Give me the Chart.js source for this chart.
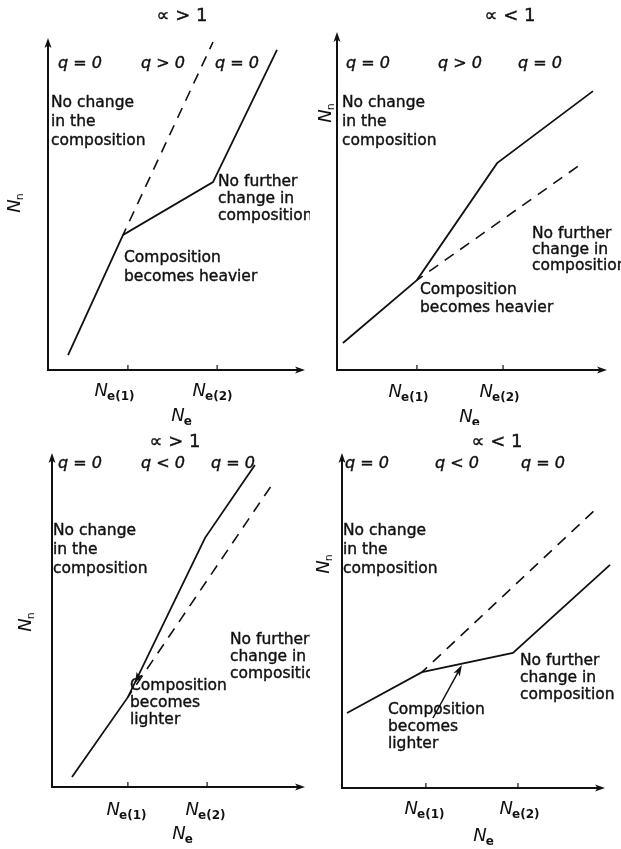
<!DOCTYPE html>
<html>
<head>
<meta charset="utf-8">
<script src="https://cdn.jsdelivr.net/npm/chart.js@4.4.1/dist/chart.umd.min.js"></script>
<style>
  html, body { margin: 0; padding: 0; background: #fff; }
  #wrap { position: relative; width: 621px; height: 849px; overflow: hidden; }
  .panel { position: absolute; }
</style>
</head>
<body>
<div id="wrap">
  <canvas id="c1" class="panel" width="310" height="425" style="left:0;top:0"></canvas>
  <canvas id="c2" class="panel" width="311" height="425" style="left:310px;top:0"></canvas>
  <canvas id="c3" class="panel" width="310" height="424" style="left:0;top:425px"></canvas>
  <canvas id="c4" class="panel" width="311" height="424" style="left:310px;top:425px"></canvas>
</div>
<script>
// ===============================================
// DATA (axis units 0..10)
// ===============================================
// alpha > 1, q > 0
const p1SolidX = [0.78, 2.92, 6.42, 8.91];
const p1SolidY = [0.45, 4.07, 5.66, 9.64];
const p1DashX = [2.92, 6.42];
const p1DashY = [4.07, 9.88];
const p1Ticks = [3.11, 6.58];

// alpha < 1, q > 0
const p2SolidX = [0.22, 2.96, 5.93, 9.48];
const p2SolidY = [0.80, 2.66, 6.12, 8.25];
const p2DashX = [2.96, 9.00];
const p2DashY = [2.66, 6.07];
const p2Ticks = [2.96, 6.15];

// alpha > 1, q < 0
const p3SolidX = [0.79, 3.00, 6.05, 8.02];
const p3SolidY = [0.30, 2.69, 7.46, 9.64];
const p3DashX = [3.00, 8.74];
const p3DashY = [2.69, 9.10];
const p3Ticks = [3.00, 6.13];
const p3ArrowX = [3.58, 3.28];
const p3ArrowY = [3.58, 3.11];

// alpha < 1, q < 0
const p4SolidX = [0.19, 3.04, 6.50, 10.19];
const p4SolidY = [2.24, 3.46, 4.03, 6.66];
const p4DashX = [3.04, 9.62];
const p4DashY = [3.46, 8.30];
const p4Ticks = [3.19, 6.69];
const p4ArrowX = [3.46, 4.56];
const p4ArrowY = [2.09, 3.67];

const tickSubs = ["e(1)", "e(2)"];
const titles = ["\u221D > 1", "\u221D < 1", "\u221D > 1", "\u221D < 1"];
const qTop = ["q = 0", "q > 0", "q = 0"];
const qBottom = ["q = 0", "q < 0", "q = 0"];
const noChange = ["No change", "in the", "composition"];
const noFurther = ["No further", "change in", "composition"];
const heavier = ["Composition", "becomes heavier"];
const lighter = ["Composition", "becomes", "lighter"];

const INK = "#111";
const FONT = "DejaVu Sans";

function pts(xs, ys) {
    return xs.map((x, i) => ({ x: x, y: ys[i] }));
}

// ===============================================
// DRAW HELPERS
// ===============================================
function arrowHead(ctx, x, y, ang, len, wid) {
    ctx.save();
    ctx.translate(x, y);
    ctx.rotate(ang);
    ctx.beginPath();
    ctx.moveTo(0, 0);
    ctx.lineTo(-len, -wid);
    ctx.lineTo(-len * 0.75, 0);
    ctx.lineTo(-len, wid);
    ctx.closePath();
    ctx.fill();
    ctx.restore();
}

// filled text with a thin outline, the original lettering is heavy
function heavyText(ctx, t, x, y) {
    ctx.fillText(t, x, y);
    ctx.strokeText(t, x, y);
}

function drawNe(ctx, cx, base, sub) {
    ctx.font = "italic 18px " + FONT;
    const wN = ctx.measureText("N").width;
    ctx.font = "bold 12px " + FONT;
    const wS = sub ? ctx.measureText(sub).width : 0;
    const x0 = cx - (wN + wS) / 2;
    ctx.font = "italic 18px " + FONT;
    ctx.textAlign = "left";
    ctx.fillText("N", x0, base);
    if (sub) {
        ctx.font = "bold 12px " + FONT;
        ctx.fillText(sub, x0 + wN - 1, base + 4);
    }
}

function drawLines(ctx, lines, x, y0, step) {
    ctx.font = "15.5px " + FONT;
    ctx.textAlign = "left";
    ctx.lineWidth = 0.4;
    lines.forEach((t, i) => heavyText(ctx, t, x, y0 + i * step));
}

// ===============================================
// PLUGIN: axes, ticks, texts
// ===============================================
const figurePlugin = {
    id: "figure",
    afterDatasetsDraw(chart, args, o) {
        const ctx = chart.ctx;
        const a = chart.chartArea;
        const sx = chart.scales.x;
        const sy = chart.scales.y;
        ctx.save();
        ctx.fillStyle = INK;
        ctx.strokeStyle = INK;

        // axes
        ctx.lineWidth = 2;
        ctx.beginPath();
        ctx.moveTo(a.left, a.top + 4);
        ctx.lineTo(a.left, a.bottom);
        ctx.lineTo(a.right - 4, a.bottom);
        ctx.stroke();
        arrowHead(ctx, a.left, a.top, -Math.PI / 2, 10, 3.5);
        arrowHead(ctx, a.right, a.bottom, 0, 10, 3.5);

        // ticks + labels
        ctx.lineWidth = 1.2;
        o.ticks.forEach((v, i) => {
            const px = sx.getPixelForValue(v);
            ctx.beginPath();
            ctx.moveTo(px, a.bottom);
            ctx.lineTo(px, a.bottom - 5);
            ctx.stroke();
            drawNe(ctx, o.tickLabelX[i], o.tickLabelY, tickSubs[i]);
        });
        drawNe(ctx, o.neX, o.neY, "e");

        // y title
        ctx.save();
        ctx.translate(o.nnX, o.nnY);
        ctx.rotate(-Math.PI / 2);
        ctx.font = "italic 18px " + FONT;
        const wN = ctx.measureText("N").width;
        ctx.textAlign = "left";
        ctx.fillText("N", -wN / 2 - 3, 6);
        ctx.font = "11px " + FONT;
        ctx.fillText("n", wN / 2 - 4, 9);
        ctx.restore();

        // panel title
        ctx.font = "18px " + FONT;
        ctx.textAlign = "center";
        ctx.lineWidth = 0.4;
        heavyText(ctx, o.title, o.titleX, o.titleY);

        // q labels
        ctx.font = "italic 16px " + FONT;
        o.q.forEach((t, i) => heavyText(ctx, t, o.qX[i], o.qY));

        // notes
        o.notes.forEach(n => drawLines(ctx, n.lines, n.x, n.y, n.step));

        // pointer arrow
        if (o.arrowX) {
            const x1 = sx.getPixelForValue(o.arrowX[0]);
            const y1 = sy.getPixelForValue(o.arrowY[0]);
            const x2 = sx.getPixelForValue(o.arrowX[1]);
            const y2 = sy.getPixelForValue(o.arrowY[1]);
            const ang = Math.atan2(y2 - y1, x2 - x1);
            if (o.shaft) {
                ctx.lineWidth = 1.5;
                ctx.beginPath();
                ctx.moveTo(x1, y1);
                ctx.lineTo(x2 - Math.cos(ang) * 6, y2 - Math.sin(ang) * 6);
                ctx.stroke();
            }
            arrowHead(ctx, x2, y2, ang, 11, 3.5);
        }
        ctx.restore();
    }
};

// ===============================================
// BUILD ONE PANEL
// ===============================================
function makePanel(id, solid, dashed, pad, fig) {
    return new Chart(document.getElementById(id), {
        type: "line",
        data: {
            datasets: [
                {
                    data: solid,
                    borderColor: INK,
                    borderWidth: 1.8,
                    pointRadius: 0,
                    tension: 0,
                    clip: false,
                },
                {
                    data: dashed,
                    borderColor: INK,
                    borderWidth: 1.6,
                    borderDash: [11, 8],
                    borderDashOffset: 4,
                    pointRadius: 0,
                    tension: 0,
                    clip: false,
                },
            ],
        },
        options: {
            responsive: false,
            animation: false,
            layout: { padding: pad },
            plugins: {
                legend: { display: false },
                tooltip: { enabled: false },
                figure: fig,
            },
            scales: {
                x: { type: "linear", min: 0, max: 10, display: false },
                y: { type: "linear", min: 0, max: 10, display: false },
            },
        },
        plugins: [figurePlugin],
    });
}

makePanel("c1", pts(p1SolidX, p1SolidY), pts(p1DashX, p1DashY),
    { left: 48, top: 38, right: 5, bottom: 55 },
    {
        ticks: p1Ticks, tickLabelX: [115, 213], tickLabelY: 396, neX: 182, neY: 421,
        nnX: 14, nnY: 203, title: titles[0], titleX: 182, titleY: 21,
        q: qTop, qX: [80, 163, 237], qY: 68,
        notes: [
            { lines: noChange, x: 51, y: 107, step: 19 },
            { lines: noFurther, x: 218, y: 186, step: 17 },
            { lines: heavier, x: 124, y: 262, step: 19 },
        ],
    });

makePanel("c2", pts(p2SolidX, p2SolidY), pts(p2DashX, p2DashY),
    { left: 27, top: 32, right: 14, bottom: 55 },
    {
        ticks: p2Ticks, tickLabelX: [99, 190], tickLabelY: 397, neX: 160, neY: 422,
        nnX: 15, nnY: 113, title: titles[1], titleX: 200, titleY: 21,
        q: qTop, qX: [58, 150, 230], qY: 68,
        notes: [
            { lines: noChange, x: 32, y: 107, step: 19 },
            { lines: noFurther, x: 222, y: 238, step: 16 },
            { lines: heavier, x: 110, y: 294, step: 18 },
        ],
    });

makePanel("c3", pts(p3SolidX, p3SolidY), pts(p3DashX, p3DashY),
    { left: 52, top: 28, right: 5, bottom: 62 },
    {
        ticks: p3Ticks, tickLabelX: [127, 206], tickLabelY: 390, neX: 183, neY: 414,
        nnX: 25, nnY: 197, title: titles[2], titleX: 175, titleY: 22,
        q: qBottom, qX: [80, 163, 233], qY: 43,
        notes: [
            { lines: noChange, x: 53, y: 110, step: 19 },
            { lines: noFurther, x: 230, y: 219, step: 17 },
            { lines: lighter, x: 130, y: 265, step: 17 },
        ],
        arrowX: p3ArrowX, arrowY: p3ArrowY, shaft: false,
    });

makePanel("c4", pts(p4SolidX, p4SolidY), pts(p4DashX, p4DashY),
    { left: 32, top: 28, right: 16, bottom: 61 },
    {
        ticks: p4Ticks, tickLabelX: [115, 210], tickLabelY: 389, neX: 174, neY: 416,
        nnX: 13, nnY: 139, title: titles[3], titleX: 187, titleY: 22,
        q: qBottom, qX: [57, 147, 233], qY: 43,
        notes: [
            { lines: noChange, x: 33, y: 110, step: 19 },
            { lines: noFurther, x: 210, y: 240, step: 17 },
            { lines: lighter, x: 78, y: 289, step: 17 },
        ],
        arrowX: p4ArrowX, arrowY: p4ArrowY, shaft: true,
    });
</script>
</body>
</html>
